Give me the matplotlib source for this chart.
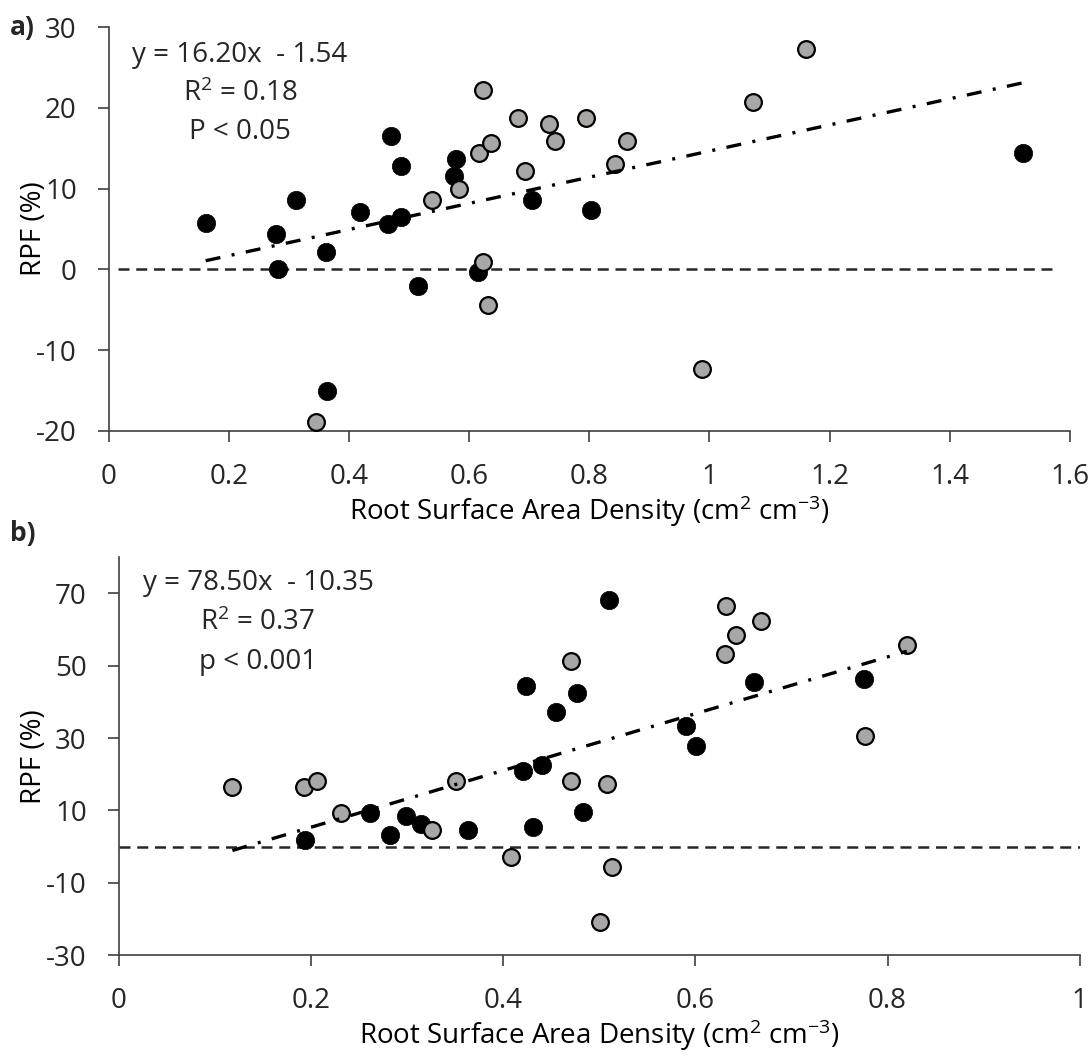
import matplotlib.pyplot as plt
import numpy as np
from matplotlib.ticker import FuncFormatter

# Fonts close to the Office look
plt.rcParams['font.family'] = ['Open Sans', 'DejaVu Sans']
plt.rcParams['mathtext.fontset'] = 'custom'
plt.rcParams['mathtext.rm'] = 'Open Sans'
plt.rcParams['mathtext.it'] = 'Open Sans:italic'
plt.rcParams['font.size'] = 20
plt.rcParams['text.color'] = '#262626'
plt.rcParams['axes.unicode_minus'] = False

# Panel a - root surface area density vs RPF
a_black_x = [0.161, 0.278, 0.281, 0.312, 0.362, 0.363, 0.418, 0.465, 0.487,
             0.470, 0.487, 0.515, 0.578, 0.574, 0.614, 0.705, 0.803, 1.522]
a_black_y = [5.7, 4.4, 0.1, 8.6, 2.2, -15.1, 7.1, 5.6, 6.5,
             16.5, 12.8, -2.1, 13.7, 11.6, -0.3, 8.6, 7.3, 14.4]
a_grey_x = [0.344, 0.538, 0.583, 0.617, 0.623, 0.623, 0.631, 0.637, 0.681,
            0.692, 0.732, 0.743, 0.795, 0.843, 0.862, 0.987, 1.073, 1.160]
a_grey_y = [-18.9, 8.6, 10.0, 14.4, 22.2, 0.9, -4.4, 15.7, 18.7,
            12.2, 18.0, 15.9, 18.7, 13.0, 15.9, -12.3, 20.8, 27.3]
a_slope, a_icept = 16.20, -1.54
a_stats = ['y = 16.20x  - 1.54', 'R$^2$ = 0.18', 'P < 0.05']

# Panel b
b_black_x = [0.194, 0.261, 0.282, 0.299, 0.314, 0.363, 0.421, 0.424, 0.431,
             0.440, 0.455, 0.477, 0.483, 0.510, 0.590, 0.601, 0.661, 0.775]
b_black_y = [1.8, 9.2, 3.1, 8.4, 6.2, 4.5, 20.9, 44.4, 5.3,
             22.5, 37.3, 42.6, 9.5, 68.1, 33.3, 27.9, 45.4, 46.4]
b_grey_x = [0.118, 0.193, 0.206, 0.231, 0.326, 0.351, 0.408, 0.470, 0.470,
            0.501, 0.508, 0.513, 0.631, 0.632, 0.642, 0.668, 0.776, 0.820]
b_grey_y = [16.4, 16.4, 18.1, 9.2, 4.5, 18.1, -2.8, 51.4, 18.1,
            -20.9, 17.4, -5.6, 53.3, 66.4, 58.5, 62.5, 30.5, 55.8]
b_slope, b_icept = 78.50, -10.35
b_stats = ['y = 78.50x  - 10.35', 'R$^2$ = 0.37', 'p < 0.001']

xlabel = 'Root Surface Area Density (cm$^{2}$ cm$^{-3}$)'
axis_col = '#404040'

W, H = 1089, 1055
fig = plt.figure(figsize=(W / 100, H / 100), dpi=100)


def px_box(left, top, right, bottom):
    return [left / W, 1 - bottom / H, (right - left) / W, (bottom - top) / H]


def panel(ax, bx, by, gx, gy, slope, icept, zero_span, xmax, ylim, yticks):
    # zero reference line under the points
    ax.plot(zero_span, [0, 0], color='#262626', lw=1.8, dashes=(4.4, 2.7),
            zorder=1)
    ax.scatter(bx, by, s=175, color='black', edgecolor='black', lw=0.5,
               zorder=3)
    ax.scatter(gx, gy, s=145, color='#a9a6a6', edgecolor='black', lw=1.6,
               zorder=4)
    # fitted line across the data range
    allx = np.array(bx + gx)
    fx = np.array([allx.min(), allx.max()])
    ax.plot(fx, slope * fx + icept, color='black', lw=2.4,
            dashes=(4.5, 3.45, 0.9, 3.45), zorder=5)

    ax.set_xlim(0, xmax)
    ax.set_ylim(*ylim)
    ax.set_xticks(np.arange(0, xmax + 0.01, 0.2))
    ax.set_yticks(yticks)
    ax.xaxis.set_major_formatter(FuncFormatter(lambda v, p: '%g' % round(v, 2)))
    for s in ['top', 'right']:
        ax.spines[s].set_visible(False)
    for s in ['left', 'bottom']:
        ax.spines[s].set_color(axis_col)
        ax.spines[s].set_linewidth(1.2)
    ax.tick_params(direction='out', length=7.7, width=1.2, color=axis_col,
                   pad=15.5, labelsize=20, labelcolor='#262626')
    ax.set_xlabel(xlabel, fontsize=20)
    ax.set_ylabel('RPF (%)', fontsize=20)
    ax.xaxis.label.set_va('baseline')
    ax.yaxis.label.set_va('center')


ax1 = fig.add_axes(px_box(109, 27.3, 1069.7, 430.7))
panel(ax1, a_black_x, a_black_y, a_grey_x, a_grey_y, a_slope, a_icept,
      [0.015, 1.575], 1.6, (-20, 30), np.arange(-20, 31, 10))
ax1.xaxis.set_label_coords(0.5, -(520 - 430.7) / 403.4)
ax1.yaxis.set_label_coords((34 - 109) / 960.7, 0.5)

ax2 = fig.add_axes(px_box(119, 557.3, 1079.7, 955))
panel(ax2, b_black_x, b_black_y, b_grey_x, b_grey_y, b_slope, b_icept,
      [0.0, 1.0], 1.0, (-30, 80), np.arange(-30, 71, 20))
ax2.xaxis.set_label_coords(0.5, -(1044.3 - 955) / 397.7)
ax2.yaxis.set_label_coords((34 - 119) / 960.7, 0.5)

# regression statistics
for i, t in enumerate(a_stats):
    fig.text(240 / W, 1 - (55 + 38.5 * i) / H, t, ha='center', va='center',
             fontsize=20)
for i, t in enumerate(b_stats):
    fig.text(258 / W, 1 - (583 + 39.5 * i) / H, t, ha='center', va='center',
             fontsize=20)

# panel letters
fig.text(10 / W, 1 - 28 / H, 'a)', fontsize=19, fontweight='bold',
         va='center')
fig.text(10 / W, 1 - 533 / H, 'b)', fontsize=19, fontweight='bold',
         va='center')

fig.savefig('out.png', dpi=100)
